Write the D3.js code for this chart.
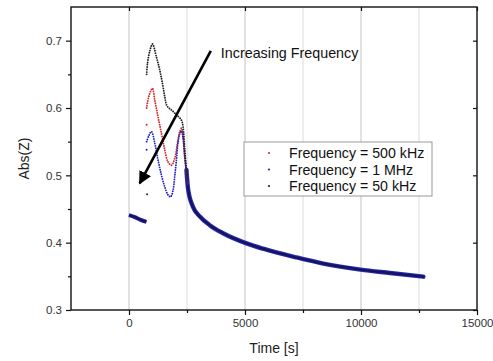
<!DOCTYPE html>
<html>
<head>
<meta charset="utf-8">
<script src="https://cdn.jsdelivr.net/npm/d3@7"></script>
<style>
	body { margin: 0; background: #fff; }
	text { font-family: "Liberation Sans", Arial, sans-serif; }
</style>
</head>
<body>
<svg id="chart" width="493" height="361"></svg>
<script>
// values, [time s, Abs(Z)]
var startSegment = [[0, 0.441], [250, 0.438], [500, 0.434], [750, 0.431]];

var freq500k = [[760, 0.600], [860, 0.618], [1010, 0.629], [1110, 0.612], [1250, 0.587], [1400, 0.562],
	[1540, 0.538], [1680, 0.520], [1830, 0.515], [1970, 0.525], [2110, 0.552], [2190, 0.565],
	[2260, 0.570], [2330, 0.558], [2400, 0.528], [2476, 0.505], [2530, 0.488]];
var freq1M = [[760, 0.550], [870, 0.560], [970, 0.565], [1110, 0.548], [1250, 0.523], [1400, 0.500],
	[1540, 0.483], [1680, 0.471], [1790, 0.468], [1900, 0.478], [1970, 0.498], [2045, 0.523],
	[2110, 0.548], [2190, 0.562], [2260, 0.566], [2330, 0.555], [2400, 0.528], [2476, 0.503], [2530, 0.485]];
var freq50k = [[760, 0.650], [800, 0.667], [900, 0.685], [1010, 0.695], [1180, 0.676], [1320, 0.657],
	[1440, 0.637], [1540, 0.617], [1640, 0.603], [1830, 0.597], [2045, 0.590], [2260, 0.582],
	[2330, 0.572], [2400, 0.540], [2476, 0.508], [2530, 0.490]];

// lone first samples of each run
var firstPoints = [
	{t: 760, v: 0.575, s: 0},
	{t: 760, v: 0.538, s: 1},
	{t: 780, v: 0.472, s: 2}
];

// all three runs collapse onto this decay
var tail = [[2476, 0.508], [2545, 0.480], [2761, 0.453], [3050, 0.439], [3481, 0.426], [4055, 0.414],
	[5065, 0.399], [5781, 0.391], [7222, 0.378], [8370, 0.369], [9980, 0.360],
	[11250, 0.355], [12690, 0.3495]];

var seriesNames = ['Frequency = 500 kHz', 'Frequency = 1 MHz', 'Frequency = 50 kHz'];
var seriesColors = ['#d42a2a', '#2424c4', '#222222'];

var xMajor = [0, 5000, 10000, 15000];
var xMinor = [2500, 7500, 12500];
var yMajor = [0.3, 0.4, 0.5, 0.6, 0.7];
var yMinor = [0.35, 0.45, 0.55, 0.65];
var gridTicks = [0, 2500, 5000, 7500, 10000, 12500];

// arrow tail -> tip, and label anchor, in data units
var arrowPts = [[3525, 0.685], [462, 0.488]];
var noteAt = [3960, 0.674];

var svg = d3.select('#chart');
var plotL = 71, plotR = 477, plotT = 7, plotB = 310;

var x = d3.scaleLinear().domain([-2500, 15000]).range([plotL, plotR]);
var y = d3.scaleLinear().domain([0.3, 0.75]).range([plotB, plotT]);

//vertical grid
svg.append('g').selectAll('line').data(gridTicks).enter().append('line')
	.attr('x1', function (d) { return x(d); }).attr('x2', function (d) { return x(d); })
	.attr('y1', plotT).attr('y2', plotB)
	.attr('stroke', function (d) { return d % 5000 === 0 ? '#c4c4c4' : '#dcdcdc'; })
	.attr('stroke-width', 1);

var line = d3.line()
	.x(function (d) { return x(d[0]); })
	.y(function (d) { return y(d[1]); })
	.curve(d3.curveMonotoneX);

var plot = svg.append('g');

// thick dense runs
plot.append('path').datum(startSegment).attr('d', line)
	.attr('fill', 'none').attr('stroke', '#2222a8').attr('stroke-width', 4);
plot.append('path').datum(tail).attr('d', line)
	.attr('fill', 'none').attr('stroke', '#2a2ab8').attr('stroke-width', 4.4)
	.attr('stroke-linecap', 'round');
plot.append('path').datum(tail).attr('d', line)
	.attr('fill', 'none').attr('stroke', '#15155e').attr('stroke-width', 2.4)
	.attr('stroke-linecap', 'round');
plot.append('path').datum(startSegment).attr('d', line)
	.attr('fill', 'none').attr('stroke', '#15155e').attr('stroke-width', 2.2);

// dotted runs, draw 50k last so it sits on top
[freq500k, freq1M, freq50k].forEach(function (s, i) {
	plot.append('path').datum(s).attr('d', d3.line()
		.x(function (d) { return x(d[0]); })
		.y(function (d) { return y(d[1]); })
		.curve(d3.curveCatmullRom))
		.attr('fill', 'none')
		.attr('stroke', seriesColors[i])
		.attr('stroke-width', 1.9)
		.attr('stroke-linecap', 'round')
		.attr('stroke-dasharray', '0,2.4');
});

plot.selectAll('circle.first').data(firstPoints).enter().append('circle')
	.attr('class', 'first')
	.attr('cx', function (d) { return x(d.t); })
	.attr('cy', function (d) { return y(d.v); })
	.attr('r', 1)
	.attr('fill', function (d) { return seriesColors[d.s]; });

// arrow
var defs = svg.append('defs');
defs.append('marker').attr('id', 'head')
	.attr('viewBox', '0 0 10 10').attr('refX', 9).attr('refY', 5)
	.attr('markerWidth', 5).attr('markerHeight', 5).attr('orient', 'auto')
	.append('path').attr('d', 'M0,0 L10,5 L0,10 z').attr('fill', '#000');

svg.append('line')
	.attr('x1', x(arrowPts[0][0])).attr('y1', y(arrowPts[0][1]))
	.attr('x2', x(arrowPts[1][0])).attr('y2', y(arrowPts[1][1]))
	.attr('stroke', '#000').attr('stroke-width', 2.6)
	.attr('marker-end', 'url(#head)');

svg.append('text').attr('x', x(noteAt[0])).attr('y', y(noteAt[1]))
	.attr('font-size', 14.3).attr('fill', '#111').text('Increasing Frequency');

// axes
var fmtY = d3.format('.1f');
var axisG = svg.append('g').attr('class', 'axes');

axisG.append('g').attr('transform', 'translate(0,' + plotB + ')')
	.call(d3.axisBottom(x).tickValues(xMajor).tickSize(5).tickPadding(4).tickFormat(d3.format('d')));
axisG.append('g').attr('transform', 'translate(0,' + plotB + ')')
	.call(d3.axisBottom(x).tickValues(xMinor).tickSize(3).tickFormat(''));
axisG.append('g').attr('transform', 'translate(' + plotL + ',0)')
	.call(d3.axisLeft(y).tickValues(yMajor).tickSize(5).tickPadding(4).tickFormat(fmtY));
axisG.append('g').attr('transform', 'translate(' + plotL + ',0)')
	.call(d3.axisLeft(y).tickValues(yMinor).tickSize(3).tickFormat(''));
axisG.append('g').attr('transform', 'translate(' + plotR + ',0)')
	.call(d3.axisLeft(y).tickValues(yMajor).tickSize(4).tickFormat(''));
axisG.append('g').attr('transform', 'translate(0,' + plotT + ')')
	.call(d3.axisBottom(x).tickValues(xMajor).tickSize(4).tickFormat(''));

axisG.selectAll('.domain').remove();
axisG.selectAll('line').attr('stroke', '#111').attr('stroke-width', 1.2);
axisG.selectAll('text').attr('font-size', 11.5).attr('fill', '#333')
	.attr('font-family', '"Liberation Sans", Arial, sans-serif');

//frame
svg.append('rect').attr('x', plotL).attr('y', plotT)
	.attr('width', plotR - plotL).attr('height', plotB - plotT)
	.attr('fill', 'none').attr('stroke', '#111').attr('stroke-width', 1.4);

// axis titles
svg.append('text').attr('x', (plotL + plotR) / 2).attr('y', 353)
	.attr('text-anchor', 'middle').attr('font-size', 14).attr('fill', '#222').text('Time [s]');
svg.append('text').attr('transform', 'translate(29,' + ((plotT + plotB) / 2) + ') rotate(-90)')
	.attr('text-anchor', 'middle').attr('font-size', 14).attr('fill', '#222').text('Abs(Z)');

// legend
var lg = svg.append('g').attr('transform', 'translate(244,142)');
lg.append('rect').attr('width', 188).attr('height', 54)
	.attr('fill', '#fff').attr('stroke', '#999').attr('stroke-width', 1);
seriesNames.forEach(function (n, i) {
	lg.append('circle').attr('cx', 25).attr('cy', 11 + i * 16.5).attr('r', 1.1).attr('fill', seriesColors[i]);
	lg.append('text').attr('x', 45).attr('y', 16 + i * 16.5)
		.attr('font-size', 14.2).attr('fill', '#111').text(n);
});
</script>
</body>
</html>
